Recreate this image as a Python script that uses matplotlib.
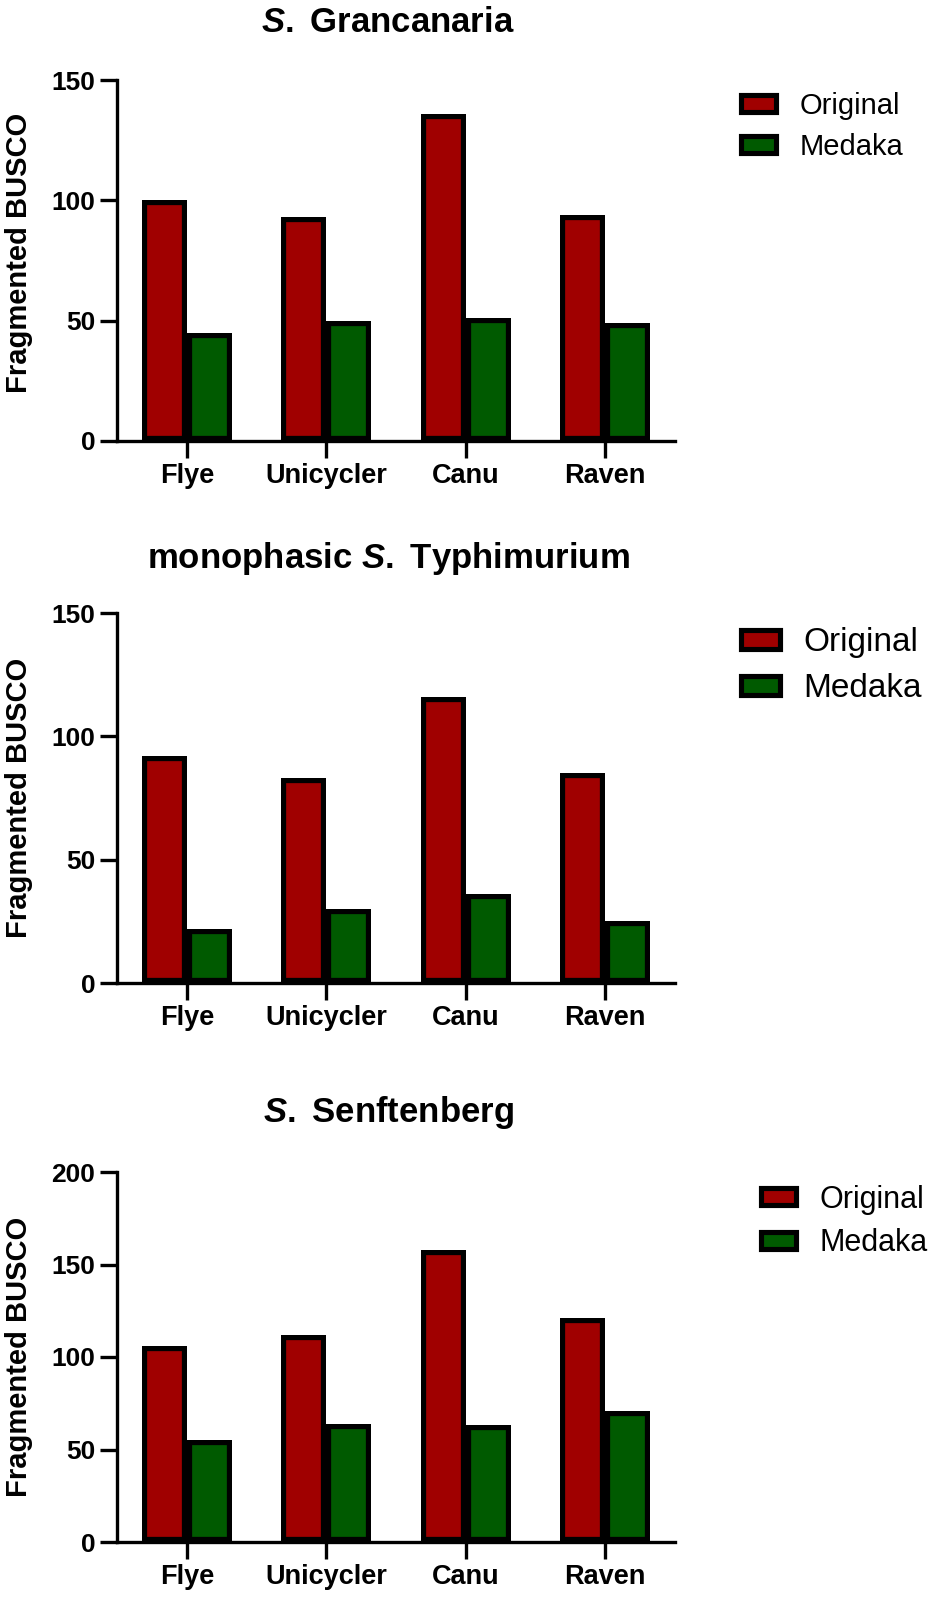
import matplotlib
matplotlib.use("Agg")
import matplotlib.pyplot as plt
import numpy as np
from matplotlib.patches import Patch

plt.rcParams['font.family'] = ['Liberation Sans', 'DejaVu Sans']
plt.rcParams['mathtext.fontset'] = 'custom'
plt.rcParams['mathtext.it'] = 'Liberation Sans:style=italic:weight=bold'
plt.rcParams['mathtext.rm'] = 'Liberation Sans:weight=bold'
plt.rcParams['mathtext.bf'] = 'Liberation Sans:weight=bold'

# ---------------- data ----------------
assemblers = ["Flye", "Unicycler", "Canu", "Raven"]
series_names = ["Original", "Medaka"]

titles = [r"$\mathit{S.}$ Grancanaria",
          r"monophasic $\mathit{S.}$ Typhimurium",
          r"$\mathit{S.}$ Senftenberg"]

grancanaria_original = [100, 93, 136, 94]
grancanaria_medaka = [45, 50, 51, 49]

typhimurium_original = [92, 83, 116, 85]
typhimurium_medaka = [22, 30, 36, 25]

senftenberg_original = [106, 112, 158, 121]
senftenberg_medaka = [55, 64, 63, 71]

yticks_1 = [0, 50, 100, 150]
yticks_2 = [0, 50, 100, 150]
yticks_3 = [0, 50, 100, 150, 200]

y_label = "Fragmented BUSCO"

# ---------------- style ----------------
RED = "#A00000"
GREEN = "#005A00"
W, H = 935, 1602
DPI = 100
fig = plt.figure(figsize=(W / DPI, H / DPI), dpi=DPI)

AX_LEFT, AX_RIGHT = 117, 675
panels = [
    dict(top=80, bottom=441, orig=grancanaria_original, med=grancanaria_medaka,
         yticks=yticks_1, title=titles[0], title_base=32, label_y=0.52,
         leg_x=741, leg_y=126.5, leg_fs=21, leg_scale=1.0),
    dict(top=613, bottom=983, orig=typhimurium_original, med=typhimurium_medaka,
         yticks=yticks_2, title=titles[1], title_base=568, label_y=0.5,
         leg_x=741, leg_y=665.5, leg_fs=24, leg_scale=1.12),
    dict(top=1172, bottom=1542, orig=senftenberg_original, med=senftenberg_medaka,
         yticks=yticks_3, title=titles[2], title_base=1122, label_y=0.5,
         leg_x=761, leg_y=1221.5, leg_fs=22, leg_scale=1.0),
]

bar_w = 0.323
inner_lw = 7.4  # doubled stroke; outer half is clipped away -> inner border
x = np.arange(len(assemblers))

for p in panels:
    ax = fig.add_axes([AX_LEFT / W, 1 - p['bottom'] / H,
                       (AX_RIGHT - AX_LEFT) / W, (p['bottom'] - p['top']) / H])
    b1 = ax.bar(x - bar_w / 2, p['orig'], bar_w, color=RED, edgecolor='black',
                linewidth=inner_lw, label=series_names[0], zorder=2)
    b2 = ax.bar(x + bar_w / 2, p['med'], bar_w, color=GREEN, edgecolor='black',
                linewidth=inner_lw, label=series_names[1], zorder=2)
    for bar in list(b1) + list(b2):
        bar.set_clip_path(bar)
    ax.set_xlim(-0.5, len(assemblers) - 0.5)
    ax.set_ylim(p['yticks'][0], p['yticks'][-1])
    ax.set_yticks(p['yticks'])
    ax.set_xticks(x)
    ax.set_xticklabels(assemblers, fontsize=19.5, fontweight='bold')
    ax.set_yticklabels([str(t) for t in p['yticks']], fontsize=19, fontweight='bold')
    for s in ['top', 'right']:
        ax.spines[s].set_visible(False)
    for s in ['left', 'bottom']:
        ax.spines[s].set_linewidth(2.4)
        ax.spines[s].set_zorder(3)
    ax.tick_params(axis='both', length=12, width=2.4, direction='out', color='black')
    ax.tick_params(axis='y', pad=3.5)
    ax.tick_params(axis='x', pad=4)
    ax.set_ylabel(y_label, fontsize=21, fontweight='bold')
    ax.yaxis.set_label_coords((33 - AX_LEFT) / (AX_RIGHT - AX_LEFT), p['label_y'])

    fig.text(388 / W, 1 - p['title_base'] / H, p['title'], fontsize=25,
             fontweight='bold', ha='center', va='baseline')

    fs_px = p['leg_fs'] * DPI / 72
    sc = p['leg_scale']
    handles = [Patch(facecolor=RED, edgecolor='black', linewidth=3.7),
               Patch(facecolor=GREEN, edgecolor='black', linewidth=3.7)]
    fig.legend(handles, series_names, loc='center left',
               bbox_to_anchor=(p['leg_x'] / W, 1 - p['leg_y'] / H),
               frameon=False, fontsize=p['leg_fs'], borderpad=0, borderaxespad=0,
               handlelength=34.5 * sc / fs_px, handleheight=14.5 * sc / fs_px,
               handletextpad=24 / fs_px, labelspacing=0.45)

fig.savefig("out.png", dpi=DPI)
